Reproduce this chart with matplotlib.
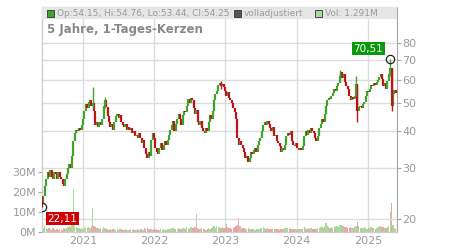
import numpy as np
import pandas as pd
import matplotlib
matplotlib.use("Agg")
import matplotlib.pyplot as plt
from matplotlib.patches import Rectangle

# weekly closes (June 2020 - May 2025)
closes = [
    22.5, 24, 26, 27.5, 29, 28, 29.5, 28, 27.5, 29,
    28.5, 27.5, 29, 28, 27.5, 26.5, 26, 27.5, 28.5, 30,
    31, 30, 33, 37, 39.5, 40.5, 40, 41, 40.5, 42,
    44, 47, 49.5, 48, 50.5, 51, 49, 50, 47, 42,
    43, 41.5, 43, 42, 44, 49, 51, 48.5, 45, 43,
    41.5, 42.5, 40.5, 43, 45, 46, 44.5, 45.5, 43, 42,
    41.5, 42.5, 40.5, 41.5, 40.5, 41, 39.5, 40, 38.5, 39,
    38, 39.5, 38, 36.5, 37.5, 35, 33.5, 32.5, 34, 33,
    37.5, 39.5, 38, 35, 34, 33.5, 35, 36.5, 34.5, 36,
    37, 36, 37.5, 39, 40.5, 42, 43.5, 40, 42.5, 44,
    46, 44, 42, 45.5, 47, 46.5, 49, 51.5, 50, 52,
    51, 48, 46, 47.5, 43, 42, 43.5, 41, 40, 39.5,
    41, 40, 43, 45.5, 44, 47, 51, 53.5, 55, 57.5,
    58.5, 57, 58, 56.5, 55, 53, 54.5, 52, 51, 50,
    48, 46.5, 44, 38, 36, 37, 36, 35, 34, 32.5,
    33, 31.5, 32.5, 34, 33.5, 34.5, 35, 34, 36, 37,
    38, 40, 42, 43, 42, 43.5, 42.5, 41, 40, 41.5,
    38.5, 39, 37, 36.5, 35.5, 34, 35, 34.5, 36, 38.5,
    39.5, 39, 40, 37, 36, 35.5, 36.5, 35, 34.5, 35,
    34.5, 35.5, 38.5, 40, 39, 40.5, 39.5, 41, 40, 39.5,
    38, 37, 38.5, 41, 42.5, 44, 43, 46, 49, 51,
    52, 51.5, 53, 54, 56, 55, 57, 58.5, 62, 64,
    61, 63, 59, 57, 56, 53, 51, 52.5, 51.5, 53,
    58, 47, 48.5, 49, 48, 49.5, 50.5, 53, 55, 54.5,
    56, 57.5, 57, 58.5, 57.5, 59, 60, 61.5, 63, 60.5,
    57, 58.5, 56, 59.5, 63, 66, 49, 53.5, 55.5, 54.25,
]

# weekly volume in millions
volume = [
    2.5, 2.0, 2.8, 1.8, 1.5, 2.2, 1.6, 1.2, 1.8, 1.4,
    1.2, 1.5, 1.0, 1.6, 1.3, 1.1, 1.8, 1.4, 2.0, 2.6,
    3.0, 2.4, 3.5, 21.5, 3.2, 2.5, 1.8, 2.2, 1.5, 2.0,
    1.6, 2.4, 2.0, 1.8, 2.6, 2.2, 2.8, 12.0, 3.0, 2.5,
    1.8, 2.2, 1.5, 1.9, 1.4, 2.6, 2.0, 1.7, 1.5, 1.2,
    1.4, 1.1, 1.6, 1.3, 1.2, 1.5, 1.0, 1.3, 1.7, 1.2,
    1.1, 1.4, 1.0, 1.2, 0.9, 1.3, 1.1, 1.5, 1.0, 1.2,
    1.4, 1.1, 1.3, 1.6, 1.2, 1.8, 1.5, 2.0, 1.4, 1.7,
    1.6, 1.2, 1.4, 1.1, 1.3, 1.0, 1.2, 1.5, 1.1, 1.3,
    1.2, 1.0, 1.4, 1.6, 1.3, 1.8, 2.0, 1.5, 1.7, 1.4,
    1.9, 1.6, 1.3, 1.8, 2.2, 1.7, 2.4, 2.0, 1.6, 2.6,
    2.2, 1.8, 2.5, 9.0, 2.0, 1.6, 1.4, 1.8, 1.3, 1.5,
    1.2, 1.6, 1.8, 1.4, 2.0, 2.3, 2.8, 2.2, 3.0, 2.5,
    2.4, 2.0, 2.6, 1.8, 2.2, 4.0, 2.5, 1.9, 2.1, 1.7,
    2.0, 2.4, 3.0, 3.4, 7.0, 2.8, 2.2, 1.8, 2.0, 1.6,
    1.5, 1.8, 1.4, 1.6, 1.3, 1.5, 1.2, 1.4, 1.7, 1.5,
    1.8, 2.0, 2.4, 1.9, 1.6, 1.8, 1.5, 1.3, 1.6, 1.4,
    1.5, 1.3, 1.7, 1.4, 1.2, 1.6, 1.3, 1.5, 1.8, 2.0,
    2.2, 1.7, 1.9, 1.5, 1.4, 1.6, 1.3, 1.2, 1.5, 1.4,
    1.3, 1.6, 2.4, 2.0, 1.7, 1.9, 1.5, 1.8, 1.6, 1.4,
    1.5, 1.3, 1.8, 2.2, 2.6, 2.4, 2.0, 2.8, 4.5, 3.0,
    2.6, 2.2, 2.5, 2.0, 2.8, 2.4, 3.0, 2.6, 3.4, 3.6,
    2.8, 3.0, 2.6, 2.4, 2.2, 2.0, 2.4, 1.9, 2.2, 2.6,
    3.0, 5.0, 2.8, 2.2, 2.0, 1.8, 2.4, 2.0, 1.7, 2.2,
    1.9, 2.3, 1.8, 2.0, 1.6, 2.2, 2.5, 2.8, 3.2, 2.6,
    2.4, 2.0, 2.2, 2.6, 3.0, 10.0, 14.5, 3.5, 2.2, 1.3,
]

# a few visible wicks (week index, high, low)
wick_weeks = [0, 37, 46, 131, 218, 230, 231, 255, 256]
wick_hi = [24, 56.5, 52.5, 59.5, 65, 62, 58, 70.51, 66]
wick_lo = [22.11, 48, 48, 56, 60, 53, 43, 62, 47]

year_ticks = ["2021", "2022", "2023", "2024", "2025"]
price_ticks = [20, 30, 40, 50, 60, 70, 80]
vol_ticks = [0, 10, 20, 30]

dates = pd.date_range("2020-06-05", periods=len(closes), freq="7D")
closes = np.array(closes)
opens = np.r_[closes[0] + 1.5, closes[:-1]]
up = closes >= opens

GREEN = "#3ea52a"
RED = "#c0121b"
GRID = "#dcdcdc"
TXT = "#9a9a9a"

fig = plt.figure(figsize=(4.5, 2.5), dpi=100)
W, H = 450, 250
x0, x1, ytop, ybot = 41.7, 397, 7, 232
ax = fig.add_axes([x0 / W, 1 - ybot / H, (x1 - x0) / W, (ybot - ytop) / H])
ax2 = ax.twinx()

xmin, xmax = pd.Timestamp("2020-06-03"), pd.Timestamp("2025-05-30")

# volume (left axis)
vcol = np.where(up, "#a5dc9c", "#f0a3ab")
ax.bar(dates, volume, width=6.5, color=vcol, lw=0, zorder=2)
ax.set_ylim(0, 112.5)
ax.set_yticks(vol_ticks)
ax.set_yticklabels([f"{v}M" for v in vol_ticks])
ax.set_xlim(xmin, xmax)
ax.set_xticks(pd.to_datetime([f"{y}-01-01" for y in year_ticks]))
ax.set_xticklabels(year_ticks)

# price (right axis, log)
ax2.set_yscale("log")
ax2.set_ylim(18.1, 106.5)
ax2.set_yticks(price_ticks)
ax2.set_yticklabels([str(p) for p in price_ticks])
ax2.minorticks_off()
ax2.set_xlim(xmin, xmax)

for t in price_ticks:
    ax2.axhline(t, color=GRID, lw=1, zorder=0)
for d in ax.get_xticks():
    ax.axvline(d, color=GRID, lw=1, zorder=0)

lo = np.minimum(opens, closes)
hi = np.maximum(opens, closes)
ax2.vlines(dates, lo, hi, colors=np.where(up, GREEN, RED), lw=1.6, zorder=3)
wd = dates[wick_weeks]
wc = [GREEN if up[i] else RED for i in wick_weeks]
ax2.vlines(wd, wick_lo, wick_hi, colors=wc, lw=1.0, zorder=3)

# high / low markers
ax2.plot(dates[255], 70.51, "o", mfc="none", mec="#222222", ms=6, mew=0.9, zorder=5)
ax2.plot(dates[0], 22.11, "o", mfc="none", mec="#222222", ms=6, mew=0.9, zorder=5)
ax2.annotate("70,51", (dates[255], 70.51), xytext=(-5, 4), textcoords="offset points",
             ha="right", va="bottom", color="white", fontsize=7.5,
             bbox=dict(boxstyle="square,pad=0.15", fc="#0a990a", ec="none"), zorder=6)
ax2.annotate("22,11", (dates[0], 22.11), xytext=(4, -5), textcoords="offset points",
             ha="left", va="top", color="white", fontsize=7.5,
             bbox=dict(boxstyle="square,pad=0.15", fc="#d00000", ec="none"), zorder=6)

for a in (ax, ax2):
    for s in a.spines.values():
        s.set_color("#cccccc")
ax2.spines["right"].set_color("#a8a8a8")
ax.spines["left"].set_color("#a8a8a8")
ax.tick_params(axis="y", colors="#a8a8a8", labelcolor=TXT, labelsize=8, length=3, pad=1)
ax.tick_params(axis="x", length=0, labelcolor=TXT, labelsize=8, pad=3)
ax2.tick_params(axis="y", colors="#a8a8a8", labelcolor=TXT, labelsize=8, length=3, pad=1)

# header band with legend
ax2.add_patch(Rectangle((0, 1 - 12 / 225), 1, 12 / 225, transform=ax2.transAxes,
                        fc="#e6e6e6", ec="none", zorder=7))
hy = 1 - 13 / H
items = [(47, GREEN, "Op:54.15, Hi:54.76, Lo:53.44, Cl:54.25"),
         (234, "#555555", "volladjustiert"),
         (315, "#a5dc9c", "Vol: 1.291M")]
for px, c, label in items:
    fig.patches.append(Rectangle((px / W, hy - 3.5 / H), 7 / W, 7 / H, transform=fig.transFigure,
                                 fc=c, ec="#333333", lw=0.6, zorder=8))
    fig.text((px + 10) / W, hy, label, color=TXT, fontsize=6.5, va="center", ha="left", zorder=9)

fig.text(47 / W, 1 - 30 / H, "5 Jahre, 1-Tages-Kerzen", color="#888888", fontsize=8.5,
         fontweight="bold", va="center", ha="left")

fig.savefig("out.png", dpi=100)
